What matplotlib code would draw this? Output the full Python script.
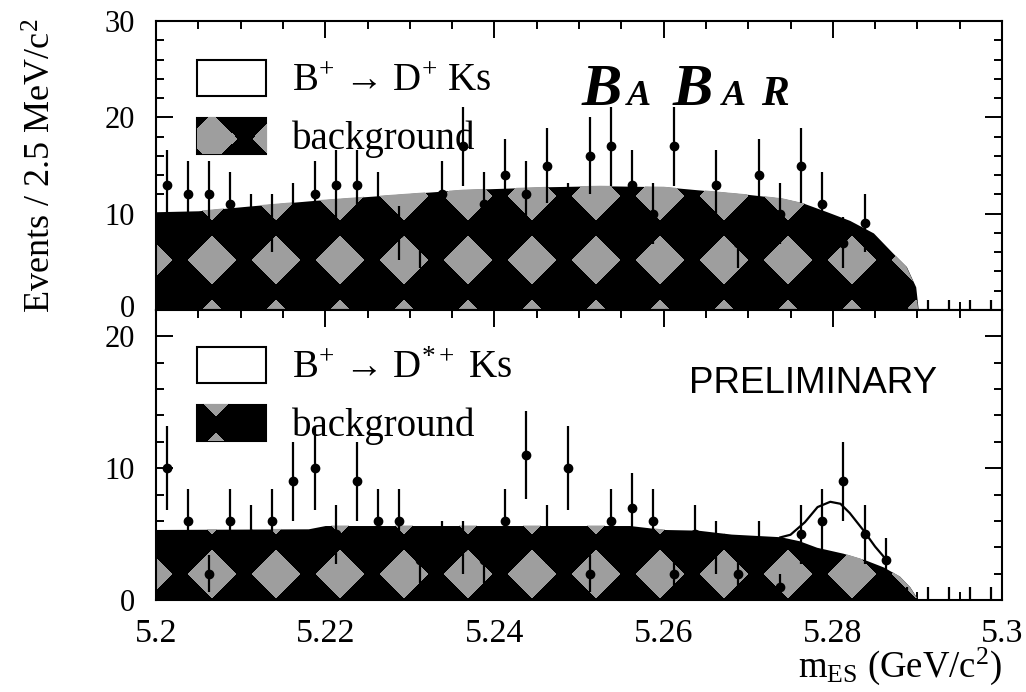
import numpy as np
import matplotlib.pyplot as plt
from matplotlib.legend_handler import HandlerBase
from matplotlib.patches import Rectangle, Patch
from matplotlib.image import BboxImage
from matplotlib.transforms import Bbox, TransformedBbox, ScaledTranslation
from matplotlib.ticker import MultipleLocator, FuncFormatter

plt.rcParams['font.family'] = ['Liberation Serif', 'DejaVu Serif']
plt.rcParams['mathtext.fontset'] = 'custom'
plt.rcParams['mathtext.rm'] = 'Liberation Serif'
plt.rcParams['mathtext.it'] = 'Liberation Serif:italic'
plt.rcParams['mathtext.bf'] = 'Liberation Serif:bold'

# m_ES histogram, 40 bins of 2.5 MeV between 5.2 and 5.3
edges = np.linspace(5.2, 5.3, 41)
centers = 0.5 * (edges[:-1] + edges[1:])

# B+ -> D+ Ks (top)
top_counts = [13, 12, 12, 11, 9, 9, 10, 12, 13, 13,
              11, 8, 7, 12, 17, 11, 14, 12, 15, 10,
              16, 17, 13, 10, 17, 8, 13, 7, 14, 10,
              15, 11, 7, 9, 3, 1, 0, 0, 0, 0]
top_bg_x = [5.2000, 5.2050, 5.2111, 5.2190, 5.2269, 5.2364, 5.2466, 5.2525,
            5.2600, 5.2650, 5.2700, 5.2740, 5.2765, 5.2793, 5.2820, 5.2848,
            5.2871, 5.2887, 5.2898, 5.2901]
top_bg_y = [10.2, 10.3, 10.8, 11.4, 11.9, 12.5, 12.8, 12.9,
            12.8, 12.4, 12.0, 11.6, 11.1, 10.2, 9.3, 8.0,
            5.9, 4.5, 2.4, 0.0]

# B+ -> D*+ Ks (bottom)
bot_counts = [10, 6, 2, 6, 5, 6, 9, 10, 5, 9,
              6, 6, 3, 4, 4, 3, 6, 11, 5, 10,
              2, 6, 7, 6, 2, 5, 4, 2, 4, 1,
              5, 6, 9, 5, 3, 0, 0, 0, 0, 0]
bot_bg_x = [5.2000, 5.2180, 5.2200, 5.2560, 5.2600, 5.2640, 5.2680, 5.2738,
            5.2760, 5.2781, 5.2812, 5.2840, 5.2860, 5.2879, 5.2891, 5.2901]
bot_bg_y = [5.35, 5.4, 5.65, 5.65, 5.35, 5.3, 5.0, 4.8,
            4.5, 4.0, 3.55, 3.0, 2.5, 1.8, 1.0, 0.0]
sig_x = [5.2738, 5.2750, 5.2767, 5.2782, 5.2797, 5.2809, 5.2820, 5.2836,
         5.2850, 5.2860, 5.2864]
sig_y = [4.75, 4.95, 5.9, 7.05, 7.45, 7.3, 6.6, 5.3, 4.05, 3.3, 3.0]

W, H = 1026, 692
COL0 = 212          # pixel column of the diamond grid
GRAY = (0.62, 0.62, 0.62, 1.0)

fig = plt.figure(figsize=(W / 100, H / 100), dpi=100)
ax1 = fig.add_axes([156 / W, 1 - 310 / H, 846 / W, 289 / H])
ax2 = fig.add_axes([156 / W, 1 - 600 / H, 846 / W, 290 / H], sharex=ax1)


def diamonds(w, h, cx, cy, pitch=64, hw=24, hh=25):
    # black/gray fill style, pixel based
    xs = np.arange(w) + 0.5
    ys = np.arange(h) + 0.5
    dx = np.abs((xs - cx + pitch / 2) % pitch - pitch / 2)
    dy = np.abs((ys - cy + pitch / 2) % pitch - pitch / 2)
    inside = dx[None, :] / hw + dy[:, None] / hh <= 1
    img = np.zeros((h, w, 4))
    img[inside] = GRAY
    return img


class TexHandler(HandlerBase):
    def __init__(self, cx, cy):
        super().__init__()
        self.cx, self.cy = cx, cy

    def create_artists(self, legend, orig_handle, xdescent, ydescent,
                       width, height, fontsize, trans):
        x, y = -xdescent, -ydescent
        back = Rectangle((x, y), width, height, facecolor='black',
                         edgecolor='black', lw=1.5, transform=trans)
        s = fig.dpi / 72
        im = BboxImage(TransformedBbox(Bbox.from_bounds(x, y, width, height), trans),
                       interpolation='nearest')
        im.set_data(diamonds(int(round(width * s)), int(round(height * s)), self.cx, self.cy))
        return [back, im]


def draw_panel(ax, counts, bg_x, bg_y, row0):
    counts = np.array(counts, dtype=float)
    poly = ax.fill_between(bg_x, bg_y, 0, color='black', lw=0, zorder=1)
    x0, y0, w, h = ax.bbox.bounds
    tex = diamonds(int(round(w)), int(round(h)), COL0 - x0, row0 - (H - y0 - h))
    im = ax.imshow(tex, extent=(0, 1, 0, 1), transform=ax.transAxes, origin='upper',
                   interpolation='nearest', aspect='auto', zorder=2)
    im.set_clip_path(poly.get_paths()[0], ax.transData)
    err = np.sqrt(np.maximum(counts, 1))
    ax.vlines(centers, counts - err, counts + err, colors='black', lw=1.6, zorder=4)
    m = counts > 0
    ax.plot(centers[m], counts[m], 'o', color='black', ms=6, zorder=5)


draw_panel(ax1, top_counts, top_bg_x, top_bg_y, 260)
draw_panel(ax2, bot_counts, bot_bg_x, bot_bg_y, 574)
ax2.plot(sig_x, sig_y, color='black', lw=1.6, zorder=3)

for ax in (ax1, ax2):
    ax.set_xlim(5.2, 5.3)
    ax.tick_params(which='both', direction='in', top=True, right=True, width=1.4)
    ax.tick_params(axis='x', labelsize=24.5, pad=13)
    ax.tick_params(axis='y', labelsize=22, pad=15)
    ax.tick_params(which='major', length=12)
    ax.tick_params(which='minor', length=6)
    ax.xaxis.set_major_locator(MultipleLocator(0.02))
    ax.xaxis.set_minor_locator(MultipleLocator(0.005))
    ax.xaxis.set_major_formatter(FuncFormatter(lambda v, p: '%g' % round(v, 4)))
    ax.yaxis.set_minor_locator(MultipleLocator(2))
    for sp in ax.spines.values():
        sp.set_linewidth(1.5)
ax1.set_yticks([0, 10, 20, 30])
ax2.set_yticks([0, 10, 20])
ax1.set_ylim(0, 30)
ax2.set_ylim(0, 22)
ax1.tick_params(labelbottom=False)
# lift the top panel's "0" a little, as in the original
lbl0 = ax1.get_yticklabels()[0]
lbl0.set_transform(lbl0.get_transform() + ScaledTranslation(0, 3 / 72, fig.dpi_scale_trans))

ax1.set_ylabel('Events / 2.5 MeV/c$^{2}$', loc='top', fontsize=26)
ax1.yaxis.set_label_coords(-0.115, 1.01)
ax2.set_xlabel(r'm$_{\mathrm{ES}}$ (GeV/c$^{2}$)', loc='right', fontsize=26.5, labelpad=-2)

leg_kw = dict(loc='upper left', frameon=False, borderpad=0, borderaxespad=0,
              fontsize=28, handlelength=1.78, handleheight=1.05,
              handletextpad=0.67, labelspacing=0.45)
sig_h1 = Patch(facecolor='white', edgecolor='black', lw=1.5)
bg_h1 = Patch(facecolor='black')
ax1.legend([sig_h1, bg_h1], ['B$^{+}$ \u2192 D$^{+}$ Ks', 'background'],
           handler_map={bg_h1: TexHandler(15, 21)},
           bbox_to_anchor=(41 / 846, 1 - 39 / 289), **leg_kw)
sig_h2 = Patch(facecolor='white', edgecolor='black', lw=1.5)
bg_h2 = Patch(facecolor='black')
ax2.legend([sig_h2, bg_h2], ['B$^{+}$ \u2192 D$^{*+}$ Ks', 'background'],
           handler_map={bg_h2: TexHandler(19, -12)},
           bbox_to_anchor=(41 / 846, 1 - 37 / 290), **leg_kw)

# BaBar logo
logo = [('B', 0.5035, 43.5, 'bold'), ('A', 0.557, 26, 'bold'),
        ('B', 0.611, 43.5, 'bold'), ('A', 0.669, 26, 'bold'),
        ('R', 0.7155, 30, 'bold')]
for ch, xf, fs, fw in logo:
    ax1.text(xf, 0.709, ch, transform=ax1.transAxes, fontsize=fs, fontweight=fw,
             style='italic', ha='left', va='baseline', zorder=6)

ax2.text(0.630, 0.714, 'PRELIMINARY', transform=ax2.transAxes,
         family=['Liberation Sans'], fontsize=26.5, ha='left', va='baseline')

fig.savefig('out.png', dpi=100)
